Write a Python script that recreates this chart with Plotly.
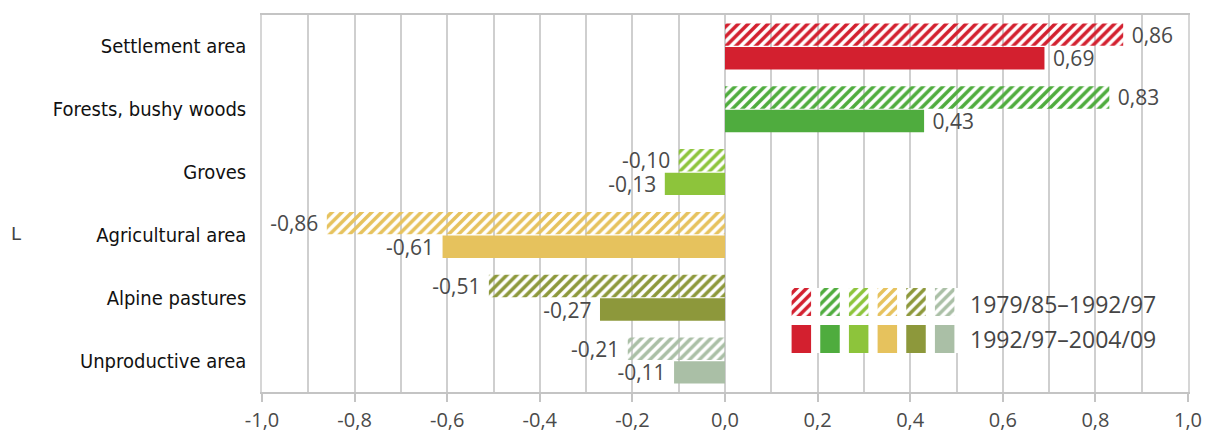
import plotly.graph_objects as go

# Land-use change per category, two survey periods
categories = [
    "Settlement area",
    "Forests, bushy woods",
    "Groves",
    "Agricultural area",
    "Alpine pastures",
    "Unproductive area",
]
change_first = [0.86, 0.83, -0.10, -0.86, -0.51, -0.21]    # 1979/85–1992/97
change_second = [0.69, 0.43, -0.13, -0.61, -0.27, -0.11]   # 1992/97–2004/09
period_labels = ["1979/85–1992/97", "1992/97–2004/09"]

category_colors = ["#d3202f", "#4fac3e", "#8dc43b", "#e6c25d", "#8d983b", "#aabfa6"]

tick_values = [-1.0, -0.8, -0.6, -0.4, -0.2, 0.0, 0.2, 0.4, 0.6, 0.8, 1.0]
tick_labels = ["-1,0", "-0,8", "-0,6", "-0,4", "-0,2", "0,0", "0,2", "0,4", "0,6", "0,8", "1,0"]

NBSP = "\u00a0"


def value_text(v):
    s = "{:.2f}".format(v).replace(".", ",")
    return NBSP + s if v >= 0 else s + NBSP


def hatched_marker():
    # diagonal stripes in the category colour on an open background
    return dict(
        color=category_colors,
        pattern=dict(shape="/", size=7, solidity=0.5, fillmode="replace"),
        line=dict(width=0),
    )


value_font = dict(family="Open Sans, Noto Sans, sans-serif", size=21, color="#4a4a4a")

fig = go.Figure()

fig.add_trace(go.Bar(
    name=period_labels[0], y=categories, x=change_first, orientation="h",
    marker=hatched_marker(),
    text=[value_text(v) for v in change_first], textposition="outside",
    textfont=value_font, constraintext="none", cliponaxis=False,
))
fig.add_trace(go.Bar(
    name=period_labels[1], y=categories, x=change_second, orientation="h",
    marker=dict(color=category_colors, line=dict(width=0)),
    text=[value_text(v) for v in change_second], textposition="outside",
    textfont=value_font, constraintext="none", cliponaxis=False,
))

# Colour key: one swatch per category, hatched row above the solid row
swatch_x = list(range(len(category_colors)))
fig.add_trace(go.Bar(
    x=swatch_x, y=[1] * len(swatch_x), base=[1.32] * len(swatch_x),
    width=0.68, offset=-0.34, xaxis="x2", yaxis="y2",
    marker=hatched_marker(), hoverinfo="skip",
))
fig.add_trace(go.Bar(
    x=swatch_x, y=[1] * len(swatch_x), base=[0] * len(swatch_x),
    width=0.68, offset=-0.34, xaxis="x2", yaxis="y2",
    marker=dict(color=category_colors, line=dict(width=0)), hoverinfo="skip",
))

PLOT_L, PLOT_R, PLOT_T, PLOT_B = 262, 1188, 15, 392
W, H = 1216, 434


def px_x(px):
    return (px - PLOT_L) / (PLOT_R - PLOT_L)


def px_y(py):
    return (PLOT_B - py) / (PLOT_B - PLOT_T)


grid_col = "#cfcfcf"

fig.update_layout(
    width=W, height=H,
    margin=dict(l=PLOT_L, r=W - PLOT_R, t=PLOT_T, b=H - PLOT_B, autoexpand=False),
    paper_bgcolor="white", plot_bgcolor="white",
    barmode="group", bargap=0.25, bargroupgap=0.05,
    showlegend=False,
    xaxis=dict(
        range=[-1.0, 1.0], tickvals=tick_values, ticktext=tick_labels,
        showgrid=True, gridcolor=grid_col, gridwidth=1.5,
        minor=dict(dtick=0.1, tick0=-1.0, showgrid=True, gridcolor=grid_col, gridwidth=1.5),
        zeroline=False, showline=True, linecolor="#c4c4c4", linewidth=2, mirror=True,
        ticks="outside", ticklen=8, tickwidth=1.5, tickcolor="#c4c4c4",
        tickfont=dict(family="Open Sans, Noto Sans, sans-serif", size=20, color="#4a4a4a"),
        ticklabelstandoff=1, automargin=False,
        fixedrange=True,
    ),
    yaxis=dict(
        type="category", autorange="reversed",
        showgrid=False, showline=True, linecolor="#d6d6d6", linewidth=1.5, mirror=True,
        ticks="", ticklabelstandoff=10, automargin=False,
        tickfont=dict(family="DejaVu Sans Condensed, DejaVu Sans, sans-serif", size=20, color="#111111"),
        fixedrange=True,
    ),
    xaxis2=dict(domain=[px_x(787), px_x(959)], anchor="y2", range=[-0.5, 5.5],
                visible=False, fixedrange=True),
    yaxis2=dict(domain=[px_y(353), px_y(288)], anchor="x2", range=[0, 2.32],
                visible=False, fixedrange=True),
    shapes=[dict(
        type="rect", xref="x", yref="paper", x0=0.12, x1=0.97,
        y0=px_y(367), y1=px_y(283), fillcolor="white", line=dict(width=0),
        layer="between",
    )],
)

key_font = dict(family="Open Sans, Noto Sans, sans-serif", size=23, color="#454545")
fig.add_annotation(xref="paper", yref="paper", x=px_x(968), y=px_y(304),
                   xanchor="left", yanchor="middle", text=period_labels[0],
                   showarrow=False, font=key_font)
fig.add_annotation(xref="paper", yref="paper", x=px_x(968), y=px_y(339),
                   xanchor="left", yanchor="middle", text=period_labels[1],
                   showarrow=False, font=key_font)
fig.add_annotation(xref="paper", yref="paper", x=px_x(16), y=px_y(233),
                   xanchor="center", yanchor="middle", text="L",
                   showarrow=False, font=dict(family="DejaVu Sans", size=18, color="#444444"))

fig.write_html("out.html")
